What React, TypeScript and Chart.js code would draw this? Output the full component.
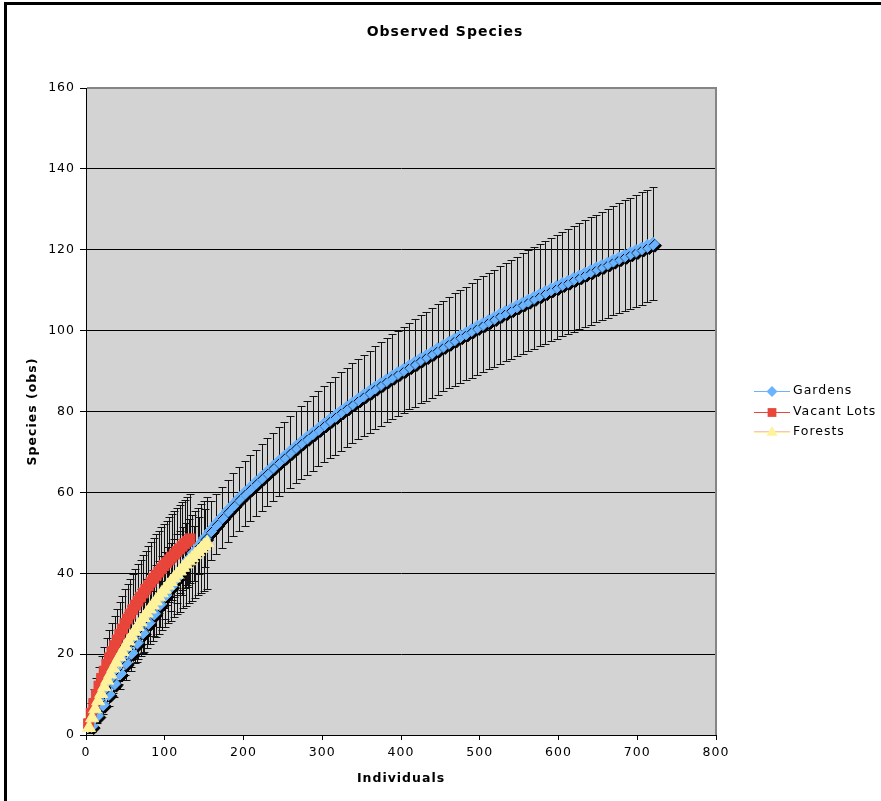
import React, { useEffect, useRef } from 'react';
import { Chart, registerables } from 'chart.js';

Chart.register(...registerables);

const FONT = "'DejaVu Sans', Verdana, sans-serif";

// Gardens: individuals, observed species (Mao Tau) and 95% CI half-width
const gardensIndividuals = [
  7.2, 14.4, 21.6, 28.8, 36, 43.2, 50.4, 57.6, 64.8, 72,
  79.2, 86.4, 93.6, 100.8, 108, 115.2, 122.4, 129.6, 136.8, 144,
  151.2, 158.4, 165.6, 172.8, 180, 187.2, 194.4, 201.6, 208.8, 216,
  223.2, 230.4, 237.6, 244.8, 252, 259.2, 266.4, 273.6, 280.8, 288,
  295.2, 302.4, 309.6, 316.8, 324, 331.2, 338.4, 345.6, 352.8, 360,
  367.2, 374.4, 381.6, 388.8, 396, 403.2, 410.4, 417.6, 424.8, 432,
  439.2, 446.4, 453.6, 460.8, 468, 475.2, 482.4, 489.6, 496.8, 504,
  511.2, 518.4, 525.6, 532.8, 540, 547.2, 554.4, 561.6, 568.8, 576,
  583.2, 590.4, 597.6, 604.8, 612, 619.2, 626.4, 633.6, 640.8, 648,
  655.2, 662.4, 669.6, 676.8, 684, 691.2, 698.4, 705.6, 712.8, 720,
];
const gardensSpecies = [
  2.2, 4.8, 7.5, 10.1, 12.7, 15.2, 17.8, 20.3, 22.8, 25.3,
  27.7, 30.0, 32.3, 34.6, 36.8, 38.9, 41.0, 43.1, 45.0, 46.9,
  48.7, 50.5, 52.2, 53.8, 55.4, 56.9, 58.4, 59.8, 61.1, 62.4,
  63.7, 65.0, 66.3, 67.6, 68.8, 70.0, 71.2, 72.4, 73.5, 74.6,
  75.7, 76.8, 77.9, 78.9, 80.0, 81.0, 82.0, 83.0, 84.0, 84.9,
  85.9, 86.8, 87.7, 88.6, 89.5, 90.3, 91.2, 92.0, 92.9, 93.7,
  94.5, 95.4, 96.2, 97.0, 97.8, 98.6, 99.3, 100.1, 100.9, 101.6,
  102.4, 103.1, 103.9, 104.6, 105.3, 106.0, 106.7, 107.4, 108.1, 108.8,
  109.5, 110.2, 110.8, 111.5, 112.1, 112.8, 113.4, 114.1, 114.7, 115.4,
  116.0, 116.6, 117.3, 117.9, 118.5, 119.1, 119.7, 120.3, 120.9, 121.5,
];
const gardensCI = [
  1.4, 1.9, 2.4, 2.9, 3.4, 3.9, 4.3, 4.5, 4.8, 5.0,
  5.2, 5.5, 5.7, 5.9, 6.1, 6.3, 6.4, 6.6, 6.8, 7.0,
  7.1, 7.3, 7.4, 7.5, 7.6, 7.8, 7.9, 8.0, 8.1, 8.2,
  8.3, 8.4, 8.5, 8.6, 8.7, 8.8, 8.9, 9.0, 9.1, 9.2,
  9.3, 9.4, 9.5, 9.6, 9.7, 9.8, 9.9, 9.9, 10.0, 10.1,
  10.2, 10.3, 10.4, 10.5, 10.5, 10.6, 10.7, 10.8, 10.9, 11.0,
  11.1, 11.2, 11.2, 11.3, 11.4, 11.5, 11.6, 11.7, 11.8, 11.8,
  11.9, 12.0, 12.1, 12.2, 12.2, 12.3, 12.4, 12.5, 12.6, 12.6,
  12.7, 12.8, 12.9, 12.9, 13.0, 13.1, 13.1, 13.2, 13.3, 13.3,
  13.4, 13.5, 13.5, 13.6, 13.7, 13.7, 13.8, 13.9, 13.9, 14.0,
];

// Vacant Lots
const vacantIndividuals = [
  3.3, 6.6, 9.9, 13.2, 16.5, 19.8, 23.1, 26.4, 29.7, 33,
  36.3, 39.6, 42.9, 46.2, 49.5, 52.8, 56.1, 59.4, 62.7, 66,
  69.3, 72.6, 75.9, 79.2, 82.5, 85.8, 89.1, 92.4, 95.7, 99,
  102.3, 105.6, 108.9, 112.2, 115.5, 118.8, 122.1, 125.4, 128.7, 132,
];
const vacantSpecies = [
  2.8, 5.4, 7.8, 10.0, 12.1, 14.0, 15.8, 17.5, 19.1, 20.6,
  22.1, 23.5, 24.9, 26.2, 27.5, 28.7, 29.9, 31.0, 32.1, 33.1,
  34.1, 35.1, 36.0, 36.9, 37.8, 38.7, 39.5, 40.3, 41.1, 41.9,
  42.6, 43.3, 44.0, 44.7, 45.4, 46.0, 46.7, 47.3, 47.9, 48.5,
];
const vacantCI = [
  1.5, 2.5, 3.5, 4.1, 4.8, 5.5, 5.9, 6.4, 6.9, 7.1,
  7.4, 7.7, 7.9, 8.2, 8.5, 8.6, 8.8, 8.9, 9.0, 9.2,
  9.3, 9.5, 9.6, 9.8, 9.9, 10.0, 10.1, 10.2, 10.3, 10.4,
  10.4, 10.5, 10.6, 10.6, 10.7, 10.8, 10.8, 10.9, 10.9, 11.0,
];

// Forests
const forestIndividuals = [
  3.85, 7.7, 11.55, 15.4, 19.25, 23.1, 26.95, 30.8, 34.65, 38.5,
  42.35, 46.2, 50.05, 53.9, 57.75, 61.6, 65.45, 69.3, 73.15, 77,
  80.85, 84.7, 88.55, 92.4, 96.25, 100.1, 103.95, 107.8, 111.65, 115.5,
  119.35, 123.2, 127.05, 130.9, 134.75, 138.6, 142.45, 146.3, 150.15, 154,
];
const forestSpecies = [
  1.8, 4.2, 6.4, 8.4, 10.2, 11.9, 13.5, 15.0, 16.5, 17.9,
  19.3, 20.6, 21.9, 23.2, 24.4, 25.6, 26.8, 27.9, 29.0, 30.1,
  31.1, 32.1, 33.1, 34.1, 35.1, 36.0, 37.0, 37.9, 38.8, 39.7,
  40.5, 41.4, 42.2, 43.0, 43.8, 44.6, 45.3, 46.1, 46.8, 47.5,
];
const forestCI = [
  1.2, 2.0, 2.8, 3.6, 4.3, 4.8, 5.2, 5.6, 6.0, 6.4,
  6.6, 6.9, 7.1, 7.3, 7.6, 7.8, 8.0, 8.3, 8.4, 8.5,
  8.7, 8.8, 8.9, 9.0, 9.2, 9.3, 9.4, 9.6, 9.7, 9.9,
  10.0, 10.1, 10.3, 10.4, 10.6, 10.7, 10.8, 11.0, 11.1, 11.3,
];

const seriesNames = ['Gardens', 'Vacant Lots', 'Forests'];
const X_MIN = 0;
const X_MAX = 800;
const X_STEP = 100;
const Y_MIN = 0;
const Y_MAX = 160;
const Y_STEP = 20;

type Marker = 'rectRot' | 'rect' | 'triangle';
interface Series {
  label: string;
  x: number[];
  y: number[];
  ci: number[];
  color: string;
  lineColor: string;
  marker: Marker;
  radius: number;
  legendRadius: number;
  shadow: boolean;
}

const SERIES: Series[] = [
  { label: seriesNames[0], x: gardensIndividuals, y: gardensSpecies, ci: gardensCI, color: '#6AB3FF', lineColor: '#6AB3FF', marker: 'rectRot', radius: 6.5, legendRadius: 5.5, shadow: true },
  { label: seriesNames[1], x: vacantIndividuals, y: vacantSpecies, ci: vacantCI, color: '#E8453B', lineColor: '#E8453B', marker: 'rect', radius: 7, legendRadius: 6.2, shadow: false },
  { label: seriesNames[2], x: forestIndividuals, y: forestSpecies, ci: forestCI, color: '#FFF29C', lineColor: '#FFF29C', marker: 'triangle', radius: 7.5, legendRadius: 6.5, shadow: false },
];

function drawMarker(ctx: CanvasRenderingContext2D, style: Marker, x: number, y: number, r: number, color: string) {
  ctx.beginPath();
  if (style === 'rectRot') {
    ctx.moveTo(x, y - r);
    ctx.lineTo(x + r, y);
    ctx.lineTo(x, y + r);
    ctx.lineTo(x - r, y);
  } else if (style === 'rect') {
    const h = r * Math.SQRT1_2;
    ctx.rect(x - h, y - h, 2 * h, 2 * h);
  } else {
    for (let k = 0; k < 3; k++) {
      const a = (k * 2 * Math.PI) / 3;
      const px = x + Math.sin(a) * r;
      const py = y - Math.cos(a) * r;
      if (k === 0) ctx.moveTo(px, py);
      else ctx.lineTo(px, py);
    }
  }
  ctx.closePath();
  ctx.fillStyle = color;
  ctx.fill();
}

const spacing = (chart: any) => {
  (chart.ctx as any).letterSpacing = '1px';
};

// Grey plot area, white page
const plotBackground = {
  id: 'plotBackground',
  beforeLayout: spacing,
  beforeDraw(chart: any) {
    spacing(chart);
    const { ctx, chartArea: a, width, height } = chart;
    ctx.save();
    ctx.fillStyle = '#ffffff';
    ctx.fillRect(0, 0, width, height);
    ctx.fillStyle = '#D3D3D3';
    ctx.fillRect(a.left, a.top, a.right - a.left, a.bottom - a.top);
    ctx.restore();
  },
};

// Vertical 95% CI bars with caps, drawn under the markers
const errorBars = {
  id: 'errorBars',
  beforeDatasetsDraw(chart: any) {
    const { ctx, chartArea: a, scales } = chart;
    const xs = scales.x;
    const ys = scales.y;
    ctx.save();
    // grey frame on top and right of the plot area
    ctx.strokeStyle = '#858585';
    ctx.lineWidth = 2;
    ctx.beginPath();
    ctx.moveTo(a.left + 1, a.top);
    ctx.lineTo(a.right, a.top);
    ctx.lineTo(a.right, a.bottom);
    ctx.stroke();

    ctx.beginPath();
    ctx.rect(a.left, a.top, a.right - a.left, a.bottom - a.top);
    ctx.clip();
    ctx.strokeStyle = '#111';
    ctx.lineWidth = 1;
    ctx.beginPath();
    for (const s of SERIES) {
      s.x.forEach((n, i) => {
        const px = Math.round(xs.getPixelForValue(n)) + 0.5;
        const hi = Math.round(ys.getPixelForValue(s.y[i] + s.ci[i])) + 0.5;
        const lo = Math.round(ys.getPixelForValue(s.y[i] - s.ci[i])) + 0.5;
        ctx.moveTo(px, hi);
        ctx.lineTo(px, lo);
        ctx.moveTo(px - 4, hi);
        ctx.lineTo(px + 4, hi);
        ctx.moveTo(px - 4, lo);
        ctx.lineTo(px + 4, lo);
      });
    }
    ctx.stroke();
    ctx.restore();
  },
};

// Drop shadow under the Gardens markers
const markerShadow = {
  id: 'markerShadow',
  beforeDatasetDraw(chart: any, args: any) {
    if (!SERIES[args.index].shadow) return;
    const ctx = chart.ctx;
    ctx.save();
    ctx.shadowColor = '#000';
    ctx.shadowOffsetX = 2;
    ctx.shadowOffsetY = 2;
    ctx.shadowBlur = 0;
  },
  afterDatasetDraw(chart: any, args: any) {
    if (SERIES[args.index].shadow) chart.ctx.restore();
  },
};

// Legend on the right, centred on the plot area
const sideLegend = {
  id: 'sideLegend',
  afterDraw(chart: any) {
    const { ctx, chartArea: a } = chart;
    const mid = (a.top + a.bottom) / 2;
    const step = 20.5;
    const x0 = a.right + 38;
    const x1 = a.right + 74;
    const mx = (x0 + x1) / 2;
    const tx = a.right + 77;
    ctx.save();
    ctx.font = `12.5px ${FONT}`;
    ctx.textBaseline = 'middle';
    ctx.textAlign = 'left';
    SERIES.forEach((s, i) => {
      const cy = Math.round(mid + (i - 1) * step);
      ctx.lineWidth = 1;
      if (s.marker === 'triangle') {
        ctx.strokeStyle = '#F5C6BE';
        ctx.beginPath();
        ctx.moveTo(x0, cy - 0.5);
        ctx.lineTo(x1, cy - 0.5);
        ctx.stroke();
      }
      ctx.strokeStyle = s.lineColor;
      ctx.beginPath();
      ctx.moveTo(x0, cy + 0.5);
      ctx.lineTo(x1, cy + 0.5);
      ctx.stroke();
      drawMarker(ctx, s.marker, mx, cy + 0.5, s.legendRadius, s.color);
      ctx.fillStyle = '#000';
      ctx.fillText(s.label, tx, cy);
    });
    ctx.restore();
  },
};

export default function App() {
  const canvasRef = useRef<HTMLCanvasElement | null>(null);

  useEffect(() => {
    const canvas = canvasRef.current;
    if (!canvas) return;
    const tickFont = { family: FONT, size: 12.5 };
    const titleFont = { family: FONT, size: 12.5, weight: 'bold' as const };

    const chart = new Chart(canvas, {
      type: 'scatter',
      data: {
        datasets: SERIES.map((s, i) => ({
          label: s.label,
          data: s.x.map((v, j) => ({ x: v, y: s.y[j] })),
          showLine: true,
          borderColor: s.lineColor,
          borderWidth: 1,
          backgroundColor: s.color,
          pointBackgroundColor: s.color,
          pointBorderColor: s.color,
          pointBorderWidth: 1,
          pointStyle: s.marker,
          pointRadius: s.radius,
          pointHoverRadius: s.radius,
          order: SERIES.length - i,
          clip: false as any,
        })),
      },
      options: {
        animation: false,
        responsive: false,
        devicePixelRatio: 1,
        events: [],
        layout: { padding: { left: 9, right: 0, top: 0, bottom: 0 } },
        plugins: {
          legend: { display: false },
          tooltip: { enabled: false },
          title: {
            display: true,
            text: 'Observed Species',
            color: '#000',
            font: { family: FONT, size: 14, weight: 'bold' },
            padding: { top: 23.6, bottom: 47.6 },
          },
        },
        scales: {
          x: {
            type: 'linear',
            min: X_MIN,
            max: X_MAX,
            ticks: { stepSize: X_STEP, color: '#000', font: tickFont, padding: 5, autoSkip: false, maxRotation: 0 },
            grid: { drawOnChartArea: false, drawTicks: true, tickLength: 5, color: '#000', lineWidth: 1 },
            border: { display: true, color: '#000', width: 1 },
            title: { display: true, text: 'Individuals', color: '#000', font: titleFont, padding: { top: 0, bottom: 14.5 } },
            afterFit: (s: any) => {
              s.height = 66;
            },
          },
          y: {
            type: 'linear',
            min: Y_MIN,
            max: Y_MAX,
            ticks: { stepSize: Y_STEP, color: '#000', font: tickFont, padding: 5 },
            grid: { color: '#000', lineWidth: 1, tickLength: 6, drawTicks: true },
            border: { display: true, color: '#000', width: 1 },
            title: { display: true, text: 'Species (obs)', color: '#000', font: titleFont, padding: { top: 16.5, bottom: 0 } },
            afterFit: (s: any) => {
              s.width = 77;
            },
          },
          yLegendSpace: {
            type: 'linear',
            position: 'right',
            display: true,
            ticks: { display: false },
            grid: { display: false, drawTicks: false },
            border: { display: false },
            afterFit: (s: any) => {
              s.width = 165;
            },
          },
        },
      } as any,
      plugins: [plotBackground, errorBars, markerShadow, sideLegend],
    });

    return () => chart.destroy();
  }, []);

  return (
    <div
      style={{
        position: 'fixed',
        left: 0,
        top: 0,
        width: 881,
        height: 801,
        background: '#fff',
        overflow: 'hidden',
      }}
    >
      <canvas ref={canvasRef} width={881} height={801} style={{ display: 'block', width: 881, height: 801 }} />
      <div
        style={{
          position: 'absolute',
          left: 4,
          top: 2,
          width: 1000,
          height: 1000,
          border: '3px solid #000',
          pointerEvents: 'none',
        }}
      />
    </div>
  );
}
